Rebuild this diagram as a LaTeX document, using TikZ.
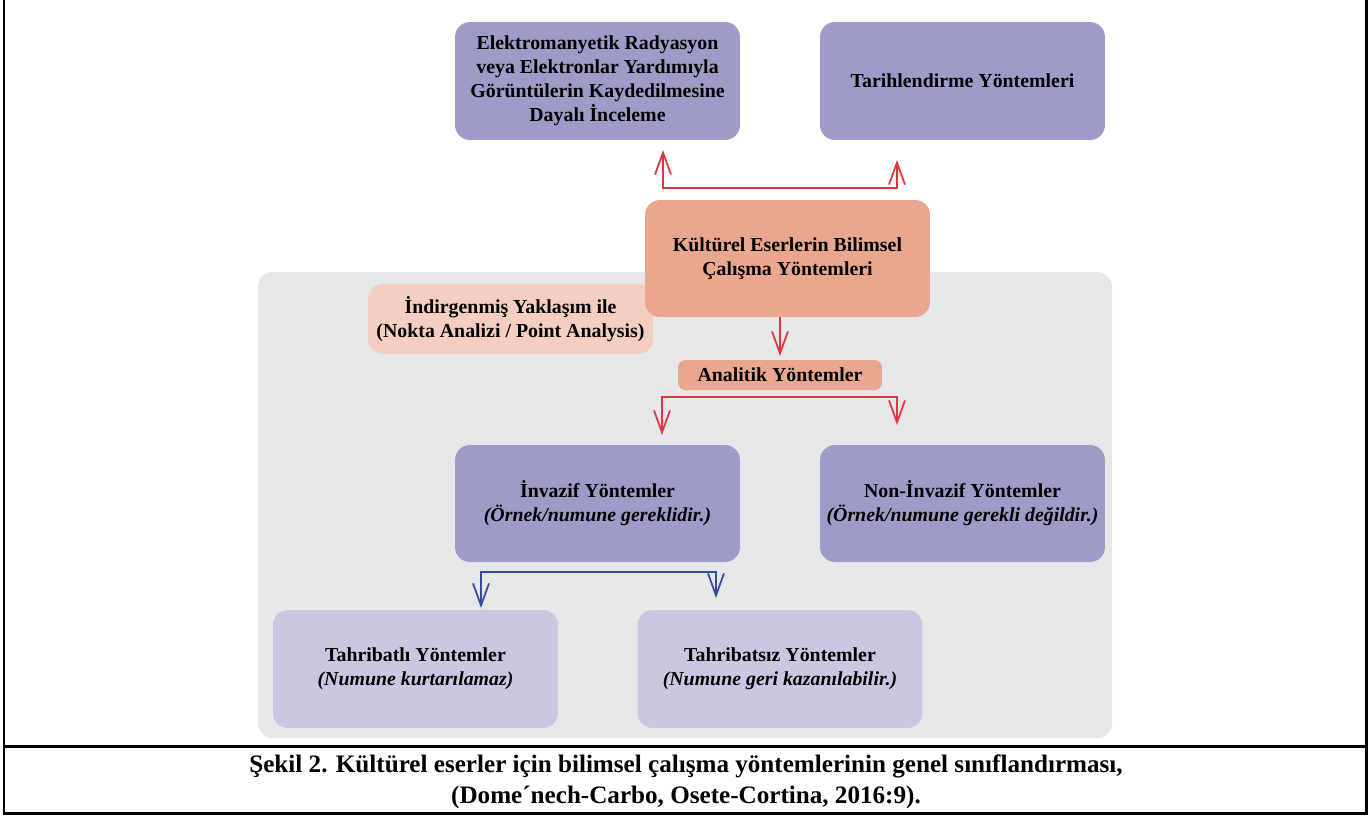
\documentclass[tikz,border=0pt]{standalone}
\usepackage{fontspec}
\setmainfont{Liberation Serif}
\usetikzlibrary{arrows.meta}

\definecolor{mor}{RGB}{158,155,200}
\definecolor{acikmor}{RGB}{202,199,226}
\definecolor{somon}{RGB}{233,167,143}
\definecolor{pembe}{RGB}{244,206,192}
\definecolor{gri}{RGB}{230,231,233}
\definecolor{kirmizi}{RGB}{222,54,62}
\definecolor{lacivert}{RGB}{55,75,155}

\begin{document}
\begin{tikzpicture}[x=0.02cm, y=-0.02cm, font=\bfseries\fontsize{11.3}{13.6}\selectfont,
	every node/.style={align=center, inner sep=0pt, outer sep=0pt},
	kutu/.style={minimum width=5.7cm, minimum height=2.36cm, rounded corners=0.3cm},
	ok/.style={line width=1pt, >={Straight Barb[length=0.44cm, width=0.32cm]}}]
	
	\useasboundingbox (0,0) rectangle (1370,816);
	
	% Çerçeve
	\draw[line width=1.7pt] (4,0) -- (4,813) -- (1366,813) -- (1366,0);
	\draw[line width=1.7pt] (4,746) -- (1366,746);
	
	% Gri zemin
	\fill[gri, rounded corners=0.3cm] (258,272) rectangle (1112,738);
	
	% Üst kutular
	\node[kutu, fill=mor] (elektro) at (597.5,81) {Elektromanyetik Radyasyon\\veya Elektronlar Yardımıyla\\Görüntülerin Kaydedilmesine\\Dayalı İnceleme};
	\node[kutu, fill=mor] (tarih) at (962.5,81) {Tarihlendirme Yöntemleri};
	
	% Orta
	\node[fill=pembe, minimum width=5.7cm, minimum height=1.4cm, rounded corners=0.3cm] (indirgen) at (510.5,319) {İndirgenmiş Yaklaşım ile\\(Nokta Analizi / Point Analysis)};
	\node[kutu, fill=somon, minimum height=2.34cm] (kultur) at (787.5,258.5) {Kültürel Eserlerin Bilimsel\\Çalışma Yöntemleri};
	\node[fill=somon, minimum width=4.08cm, minimum height=0.6cm, rounded corners=0.15cm] (analitik) at (780,375) {Analitik Yöntemler};
	
	% Alt kutular
	\node[kutu, fill=mor, minimum height=2.34cm] (invazif) at (597.5,503.5) {İnvazif Yöntemler\\\textit{(Örnek/numune gereklidir.)}};
	\node[kutu, fill=mor, minimum height=2.34cm] (noninvazif) at (962.5,503.5) {Non-İnvazif Yöntemler\\\textit{(Örnek/numune gerekli değildir.)}};
	\node[kutu, fill=acikmor] (tahribatli) at (415.5,669) {Tahribatlı Yöntemler\\\textit{(Numune kurtarılamaz)}};
	\node[kutu, fill=acikmor] (tahribatsiz) at (780,669) {Tahribatsız Yöntemler\\\textit{(Numune geri kazanılabilir.)}};
	
	% Oklar
	\coordinate (ustsol) at (663,188);
	\coordinate (ustsag) at (897,188);
	\coordinate (altsol) at (662,397);
	\coordinate (altsag) at (897,397);
	\coordinate (mavisol) at (481,572);
	\coordinate (mavisag) at (716,572);
	\draw[ok, kirmizi, <->, shorten <=0.2cm, shorten >=0.4cm] (ustsol |- elektro.south) -- (ustsol) -- (ustsag) -- (ustsag |- tarih.south);
	\draw[ok, kirmizi, ->, shorten >=0.08cm] (analitik |- kultur.south) -- (analitik.north);
	\draw[ok, kirmizi, <->, shorten <=0.2cm, shorten >=0.4cm] (altsol |- invazif.north) -- (altsol) -- (altsag) -- (altsag |- noninvazif.north);
	\draw[ok, lacivert, <->, shorten <=0.04cm, shorten >=0.24cm] (mavisol |- tahribatli.north) -- (mavisol) -- (mavisag) -- (mavisag |- tahribatsiz.north);
	
	% Şekil yazısı
	\node[font=\bfseries\fontsize{14.3}{16}\selectfont] (yazi1) at (686,766) {Şekil 2. Kültürel eserler için bilimsel çalışma yöntemlerinin genel sınıflandırması,};
	\node[font=\bfseries\fontsize{14.3}{16}\selectfont] (yazi2) at (686,797) {(Dome´nech-Carbo, Osete-Cortina, 2016:9).};
\end{tikzpicture}
\end{document}
